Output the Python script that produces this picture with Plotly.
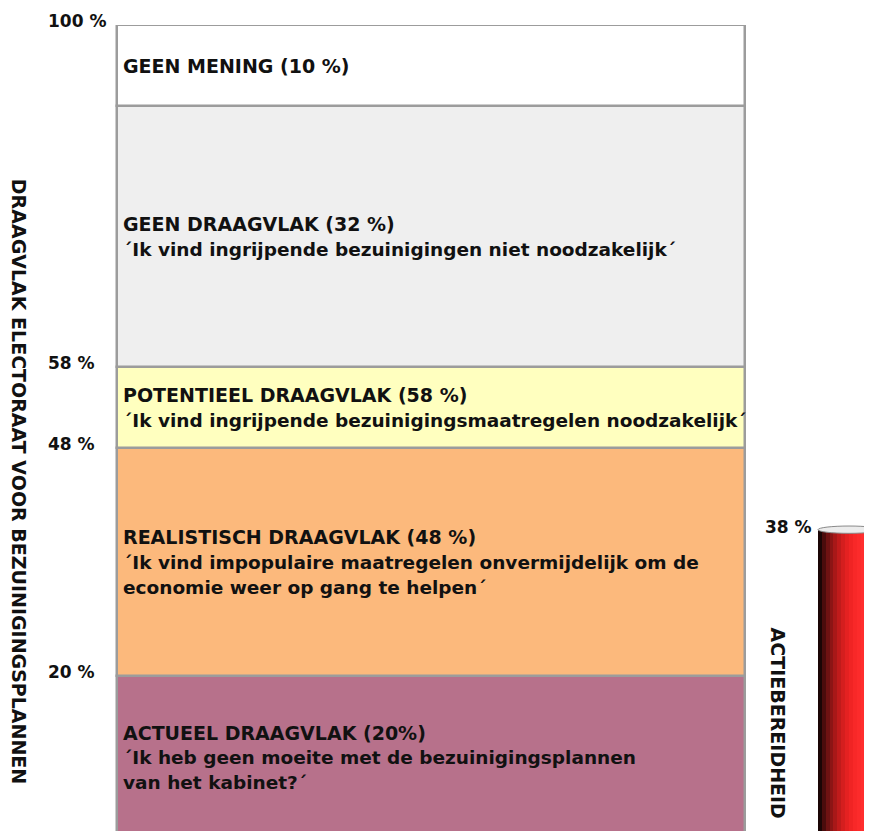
import plotly.graph_objects as go

# gegevens (percentages)
band_names = ["ACTUEEL", "REALISTISCH", "POTENTIEEL", "GEEN DRAAGVLAK", "GEEN MENING"]
band_sizes = [20, 28, 10, 32, 10]
band_colors = ["#b7718b", "#fcb97c", "#ffffbf", "#efefef", "#ffffff"]
band_texts = [
    ["ACTUEEL DRAAGVLAK (20%)",
     "´Ik heb geen moeite met de bezuinigingsplannen",
     "van het kabinet?´"],
    ["REALISTISCH DRAAGVLAK (48 %)",
     "´Ik vind impopulaire maatregelen onvermijdelijk om de",
     "economie weer op gang te helpen´"],
    ["POTENTIEEL DRAAGVLAK (58 %)",
     "´Ik vind ingrijpende bezuinigingsmaatregelen noodzakelijk´"],
    ["GEEN DRAAGVLAK (32 %)",
     "´Ik vind ingrijpende bezuinigingen niet noodzakelijk´"],
    ["GEEN MENING (10 %)"],
]
tick_vals = [20, 48, 58, 100]
tick_text = ["20 %", "48 %", "58 %", "100 %"]
actie_value = 38
actie_label = "38 %"

# opmaak (pagina heeft 8px body-marge, x-as loopt daarom van 8 tot 880)
W, H = 872, 831
FONT = "DejaVu Sans"
bar_x, bar_w = 431, 628
cyl_left, cyl_w, n_slices = 818, 62, 16
cyl_colors = ["#1a0505", "#4a0c0c", "#6e1212", "#8c1515", "#a81818", "#c01b1b",
              "#d41e1e", "#e42121", "#f02424", "#f82828", "#fc2b2b", "#ff2e2e",
              "#ff3030", "#f82c2c", "#ee2828", "#e02424"]

fig = go.Figure()

bases = []
b = 0
for s in band_sizes:
    bases.append(b)
    b += s

for name, size, base, col in zip(band_names, band_sizes, bases, band_colors):
    fig.add_trace(go.Bar(
        x=[bar_x], y=[size], base=[base], width=[bar_w], name=name,
        marker=dict(color=col, line=dict(color="#9c9c9c", width=2.5)),
        showlegend=False, hoverinfo="skip",
    ))

# cilinder (actiebereidheid) uit smalle staafjes
sw = cyl_w / n_slices
for i in range(n_slices):
    fig.add_trace(go.Bar(
        x=[cyl_left + sw * (i + 0.5)], y=[actie_value], width=[sw * 1.05],
        marker=dict(color=cyl_colors[i], line=dict(width=0)),
        showlegend=False, hoverinfo="skip",
    ))

shapes = [dict(type="circle", xref="x", yref="y",
               x0=cyl_left, x1=cyl_left + cyl_w,
               y0=actie_value - 0.45, y1=actie_value + 0.45,
               fillcolor="#ececec", line=dict(color="#8a8a8a", width=1), layer="above")]

annotations = []
for lines, size, base in zip(band_texts, band_sizes, bases):
    mid = base + size / 2
    n = len(lines)
    for i, line in enumerate(lines):
        annotations.append(dict(
            x=121, y=mid, xref="x", yref="y", text="<b>%s</b>" % line,
            xanchor="left", yanchor="middle", showarrow=False,
            yshift=((n - 1) / 2 - i) * 25,
            font=dict(family=FONT, size=19 if i == 0 else 18.5, color="#111111"),
        ))

for v, t in zip(tick_vals, tick_text):
    annotations.append(dict(
        x=46, y=v, xref="x", yref="y", text="<b>%s</b>" % t,
        xanchor="left", yanchor="middle", showarrow=False, yshift=4,
        font=dict(family=FONT, size=17, color="#111111"),
    ))

annotations.append(dict(
    x=cyl_left - 4, y=actie_value, xref="x", yref="y", text="<b>%s</b>" % actie_label,
    xanchor="right", yanchor="middle", showarrow=False, yshift=3,
    font=dict(family=FONT, size=17, color="#111111"),
))
annotations.append(dict(
    x=19, y=0.44, xref="x", yref="paper",
    text="<b>DRAAGVLAK ELECTORAAT VOOR BEZUINIGINGSPLANNEN</b>",
    textangle=90, xanchor="center", yanchor="middle", showarrow=False,
    font=dict(family=FONT, size=19, color="#111111"),
))
annotations.append(dict(
    x=778, y=0.143, xref="x", yref="paper",
    text="<b>ACTIEBEREIDHEID</b>",
    textangle=90, xanchor="center", yanchor="middle", showarrow=False,
    font=dict(family=FONT, size=19, color="#111111"),
))

fig.update_layout(
    width=W, height=H,
    margin=dict(l=0, r=0, t=17, b=0),
    paper_bgcolor="white", plot_bgcolor="white",
    barmode="overlay", bargap=0,
    shapes=shapes, annotations=annotations,
    xaxis=dict(range=[8, W + 8], visible=False, fixedrange=True),
    yaxis=dict(range=[0, 100], visible=False, fixedrange=True),
)

fig.write_html("out.html")
